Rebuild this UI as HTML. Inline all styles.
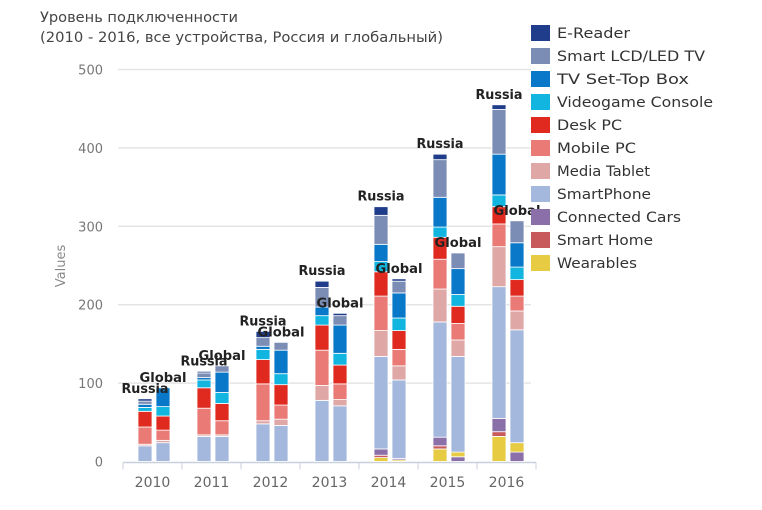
<!DOCTYPE html>
<html><head><meta charset="utf-8"><style>
html,body{margin:0;padding:0;background:#fff;width:762px;height:510px;overflow:hidden}
svg{display:block;font-family:"DejaVu Sans","Liberation Sans",sans-serif}
</style></head><body>
<svg id="s" width="762" height="510" xmlns="http://www.w3.org/2000/svg">
<text x="40" y="22" font-size="14" fill="#444" textLength="198" lengthAdjust="spacingAndGlyphs">Уровень подключенности</text>
<text x="40" y="42" font-size="14" fill="#444" textLength="403" lengthAdjust="spacingAndGlyphs">(2010 - 2016, все устройства, Россия и глобальный)</text>
<text transform="translate(65,266) rotate(-90)" font-size="13" fill="#888" text-anchor="middle">Values</text>
</svg>
<script>
var s=document.getElementById('s'),NS='http://www.w3.org/2000/svg';
function el(t,a,txt){var e=document.createElementNS(NS,t);for(var k in a)e.setAttribute(k,a[k]);if(txt)e.textContent=txt;s.appendChild(e);return e;}
var base=461.5,k=0.784;
for(var i=0;i<=5;i++){var y=base-i*100*k;
 if(i>0)el('line',{x1:118,x2:531,y1:y,y2:y,stroke:'#e4e4e4','stroke-width':1.5});
 el('text',{x:103,y:y+5,'font-size':13,fill:'#777','text-anchor':'end'},String(i*100));}
el('line',{x1:123,x2:536,y1:base+1,y2:base+1,stroke:'#c8d0dc','stroke-width':1.5});
for(var i=0;i<=7;i++){var x=123+i*59;el('line',{x1:x,x2:x,y1:base+1,y2:base+8,stroke:'#c8d0dc'});}
var C={er:'#1f3d8a',lcd:'#7c8db5',stb:'#0a78c8',cy:'#12b4e0',dk:'#e0291f',mb:'#e97a76',tb:'#dfa7a6',sp:'#a4b8dd',cc:'#8a6fa8',sh:'#c85a5c',wr:'#e6cb43'};
var D=[
 [[['sp',20],['tb',2],['mb',22],['dk',20],['cy',5],['stb',4],['lcd',4],['er',3]],
  [['sp',24],['tb',3],['mb',13],['dk',18],['cy',12],['stb',24]]],
 [[['sp',32],['tb',2],['mb',34],['dk',26],['cy',10],['stb',3],['lcd',6],['er',2]],
  [['sp',32],['tb',2],['mb',18],['dk',22],['cy',14],['stb',26],['lcd',8]]],
 [[['sp',48],['tb',4],['mb',47],['dk',31],['cy',13],['stb',4],['lcd',11],['er',8]],
  [['sp',46],['tb',8],['mb',18],['dk',26],['cy',14],['stb',30],['lcd',10]]],
 [[['sp',78],['tb',19],['mb',45],['dk',32],['cy',12],['stb',11],['lcd',25],['er',8]],
  [['sp',71],['tb',8],['mb',20],['dk',24],['cy',15],['stb',36],['lcd',12],['er',3]]],
 [[['wr',5],['sh',3],['cc',8],['sp',118],['tb',33],['mb',44],['dk',31],['cy',13],['stb',22],['lcd',37],['er',11]],
  [['wr',2],['cc',2],['sp',100],['tb',18],['mb',21],['dk',24],['cy',16],['stb',32],['lcd',15],['er',3]]],
 [[['wr',16],['sh',4],['cc',11],['sp',147],['tb',42],['mb',38],['dk',28],['cy',13],['stb',38],['lcd',48],['er',7]],
  [['cc',6],['wr',6],['sp',122],['tb',21],['mb',21],['dk',22],['cy',15],['stb',33],['lcd',20]]],
 [[['wr',32],['sh',6],['cc',17],['sp',168],['tb',51],['mb',29],['dk',22],['cy',15],['stb',52],['lcd',57],['er',6]],
  [['cc',12],['wr',12],['sp',144],['tb',24],['mb',19],['dk',21],['cy',16],['stb',31],['lcd',28]]]
];
var labels=[];
D.forEach(function(g,i){
 var xc=123+59*i+29.5;
 el('text',{x:xc,y:487,'font-size':14,fill:'#666','text-anchor':'middle'},String(2010+i));
 g.forEach(function(bar,j){
  var x=138+59*i+(j?18:0),y=base;
  bar.forEach(function(sg){var h=sg[1]*k;el('rect',{x:x,y:y-h,width:14,height:h,fill:C[sg[0]],stroke:'#fff','stroke-width':0.8});y-=h;});
  labels.push([x+7,y-6,j?'Global':'Russia']);
 });
});
labels.forEach(function(l){el('text',{x:l[0],y:l[1],'font-size':13,'font-weight':'bold',fill:'#222','text-anchor':'middle',textLength:47,lengthAdjust:'spacingAndGlyphs'},l[2]);});
var L=[['er','E-Reader',73],['lcd','Smart LCD/LED TV',148],['stb','TV Set-Top Box',132],['cy','Videogame Console',156],['dk','Desk PC',65],['mb','Mobile PC',79],['tb','Media Tablet',93],['sp','SmartPhone',94],['cc','Connected Cars',124],['sh','Smart Home',96],['wr','Wearables',80]];
L.forEach(function(l,i){var y=25+i*23;
 el('rect',{x:531,y:y,width:19,height:16,fill:C[l[0]]});
 el('text',{x:557,y:y+13,'font-size':14.5,fill:'#333',textLength:l[2],lengthAdjust:'spacingAndGlyphs'},l[1]);});
</script>
</body></html>
